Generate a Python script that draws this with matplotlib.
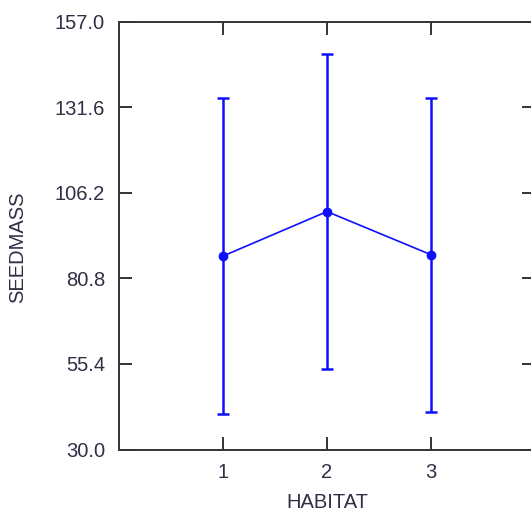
import matplotlib
matplotlib.use('Agg')
import matplotlib.pyplot as plt

# group means and error half-widths
habitat = [1, 2, 3]
seedmass_mean = [87.4, 100.6, 87.8]
seedmass_err = [46.9, 46.8, 46.6]
yticks = [30.0, 55.4, 80.8, 106.2, 131.6, 157.0]

plt.rcParams['font.family'] = ['Liberation Sans', 'DejaVu Sans']
txt_col = '#322e44'
axis_col = '#333333'
blue = '#0f0fff'

fig = plt.figure(figsize=(5.31, 5.15), dpi=100)
ax = fig.add_axes([119 / 531, 65.5 / 515, 416 / 531, 428 / 515])

ax.errorbar(habitat, seedmass_mean, yerr=seedmass_err, fmt='none',
            ecolor=blue, elinewidth=1.8, capsize=4, capthick=1.8)
ax.plot(habitat, seedmass_mean, color=blue, lw=1.2,
        marker='o', markersize=6)

ax.set_xlim(0, 4)
ax.set_ylim(30, 157)
ax.set_xticks(habitat)
ax.set_yticks(yticks)
ax.set_yticklabels(['%.1f' % v for v in yticks])

for s in ax.spines.values():
    s.set_color(axis_col)
    s.set_linewidth(1.4)

ax.tick_params(direction='in', length=9.5, width=1.4, color=axis_col,
               top=True, right=True, labelsize=14.5, labelcolor=txt_col,
               pad=10)

ax.set_xlabel('HABITAT', fontsize=14.5, color=txt_col, labelpad=8)
ax.set_ylabel('SEEDMASS', fontsize=14.5, color=txt_col)
ax.yaxis.set_label_coords(-0.222, 0.473)

plt.savefig('out.png', dpi=100)
